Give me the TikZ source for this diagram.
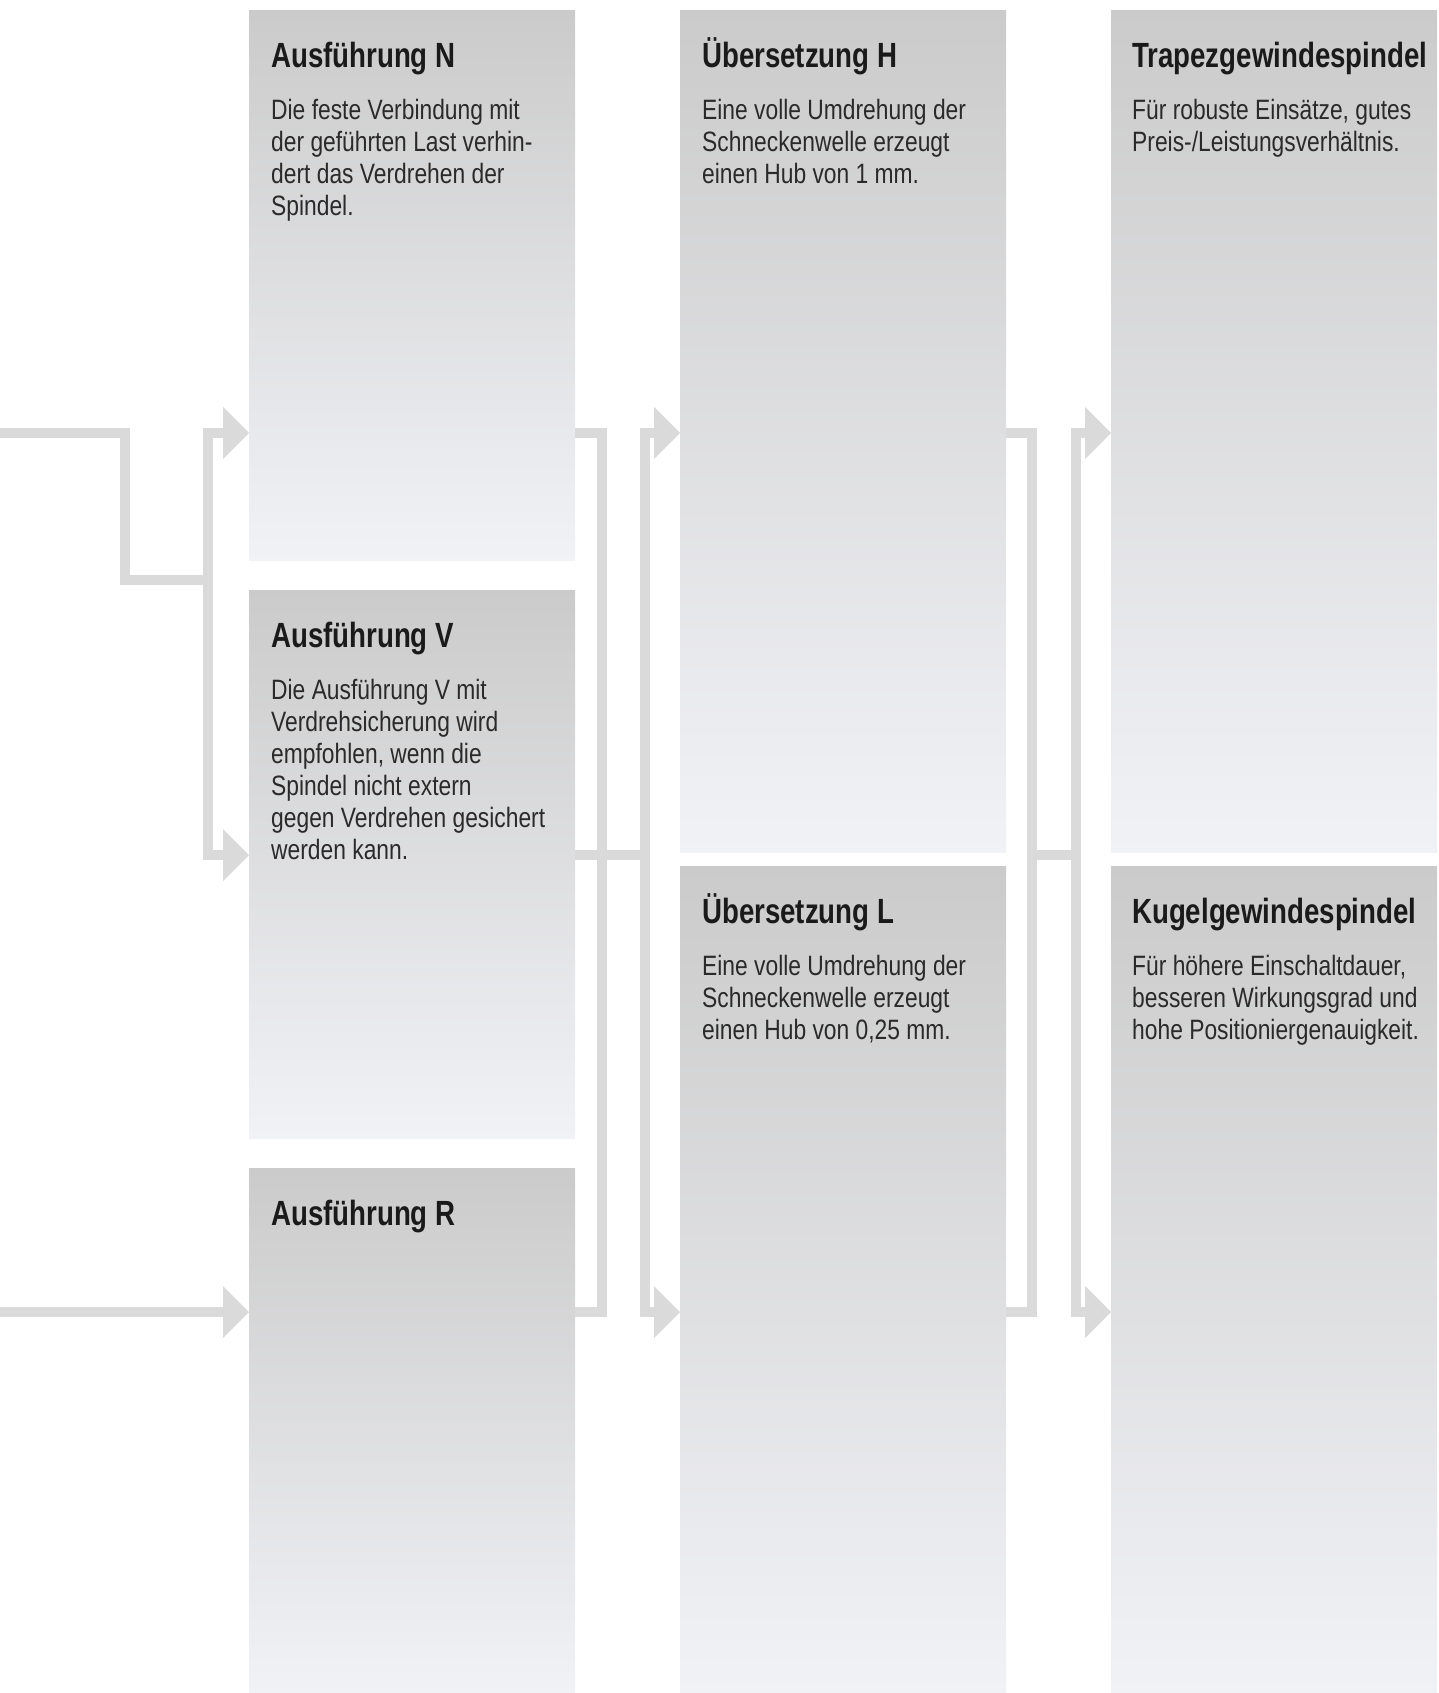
\documentclass[tikz,border=0pt]{standalone}
\usepackage{fontspec}
\setmainfont{Liberation Sans}
\newfontfamily\bodyfont[FakeStretch=0.815]{Liberation Sans}
\newfontfamily\titlefont[FakeStretch=0.79]{Liberation Sans}
\usetikzlibrary{arrows.meta,calc}
\definecolor{conncol}{HTML}{DADADA}
\definecolor{panelTop}{HTML}{CBCBCB}
\definecolor{panelMid}{HTML}{DDDEE0}
\definecolor{panelBot}{HTML}{F1F2F6}
\definecolor{titlecol}{HTML}{1A1A1A}
\definecolor{bodycol}{HTML}{2A2A2A}
\begin{document}
\begin{tikzpicture}[x=1pt,y=-1pt,
  panel/.style={anchor=north west, inner sep=0pt, outer sep=0pt, minimum width=326pt,
    top color=panelTop, middle color=panelMid, bottom color=panelBot, draw=none},
  ttl/.style={anchor=base west, inner sep=0pt, font=\titlefont\bfseries\fontsize{35}{40}\selectfont, text=titlecol},
  bdy/.style={anchor=base west, inner sep=0pt, font=\bodyfont\fontsize{28}{32}\selectfont, text=bodycol},
  conn/.style={draw=conncol, line width=10pt, line join=miter},
  tipboth/.style={{Triangle[length=26pt,width=52pt,line width=0pt]}-{Triangle[length=26pt,width=52pt,line width=0pt]}},
  tipend/.style={-{Triangle[length=26pt,width=52pt,line width=0pt]}}
]
\useasboundingbox (0,0) rectangle (1438,1693);

% panels
\node[panel, minimum height=549pt] (N) at (249,11) {};
\node[panel, minimum height=548pt] (V) at (249,590) {};
\node[panel, minimum height=525pt] (R) at (249,1168) {};
\node[panel, minimum height=841pt] (H) at (680,11) {};
\node[panel, minimum height=827pt] (L) at (680,866) {};
\node[panel, minimum height=841pt] (T) at (1111,11) {};
\node[panel, minimum height=827pt] (K) at (1111,866) {};

% texts
\node[ttl] (Nt) at ($(N.north west)+(22,57)$) {Ausführung N};
\node[bdy] (Nb) at ($(N.north west)+(22,109)$) {\parbox[t]{320pt}{\raggedright Die feste Verbindung mit\\der geführten Last verhin-\\dert das Verdrehen der\\Spindel.}};
\node[ttl] (Vt) at ($(V.north west)+(22,57)$) {Ausführung V};
\node[bdy] (Vb) at ($(V.north west)+(22,109)$) {\parbox[t]{320pt}{\raggedright Die Ausführung V mit\\Verdrehsicherung wird\\empfohlen, wenn die\\Spindel nicht extern\\gegen Verdrehen gesichert\\werden kann.}};
\node[ttl] (Rt) at ($(R.north west)+(22,57)$) {Ausführung R};
\node[ttl] (Ht) at ($(H.north west)+(22,57)$) {Übersetzung H};
\node[bdy] (Hb) at ($(H.north west)+(22,109)$) {\parbox[t]{320pt}{\raggedright Eine volle Umdrehung der\\Schneckenwelle erzeugt\\einen Hub von 1 mm.}};
\node[ttl] (Lt) at ($(L.north west)+(22,57)$) {Übersetzung L};
\node[bdy] (Lb) at ($(L.north west)+(22,109)$) {\parbox[t]{320pt}{\raggedright Eine volle Umdrehung der\\Schneckenwelle erzeugt\\einen Hub von 0,25 mm.}};
\node[ttl] (Tt) at ($(T.north west)+(21,57)$) {Trapezgewindespindel};
\node[bdy] (Tb) at ($(T.north west)+(21,109)$) {\parbox[t]{320pt}{\raggedright Für robuste Einsätze, gutes\\Preis-/Leistungsverhältnis.}};
\node[ttl] (Kt) at ($(K.north west)+(21,57)$) {Kugelgewindespindel};
\node[bdy] (Kb) at ($(K.north west)+(21,109)$) {\parbox[t]{320pt}{\raggedright Für höhere Einschaltdauer,\\besseren Wirkungsgrad und\\hohe Positioniergenauigkeit.}};

% connector coordinates
\coordinate (inA) at (0,433);
\coordinate (inB) at (0,1312);
\coordinate (knee) at (125,580);
\coordinate (v0) at (208,580);
\coordinate (v1) at (602,0);
\coordinate (v2) at (645,855);
\coordinate (w1) at (1032,0);
\coordinate (w2) at (1076,855);

% left inputs
\draw[conn] (inA) -- (knee |- inA) -- (knee) -- (v0);
\draw[conn, tipboth] (N.west |- inA) -- (v0 |- inA) -- (v0 |- v2) -- (V.west |- v2);
\draw[conn, tipend] (inB) -- (R.west |- inB);

% column 1 -> column 2
\draw[conn] (N.east |- inA) -- (v1 |- inA) -- (v1 |- inB) -- (R.east |- inB);
\draw[conn] (V.east |- v2) -- (v2);
\draw[conn, tipboth] (H.west |- inA) -- (v2 |- inA) -- (v2 |- inB) -- (L.west |- inB);

% column 2 -> column 3
\draw[conn] (H.east |- inA) -- (w1 |- inA) -- (w1 |- inB) -- (L.east |- inB);
\draw[conn] (w1 |- w2) -- (w2);
\draw[conn, tipboth] (T.west |- inA) -- (w2 |- inA) -- (w2 |- inB) -- (K.west |- inB);
\end{tikzpicture}
\end{document}
